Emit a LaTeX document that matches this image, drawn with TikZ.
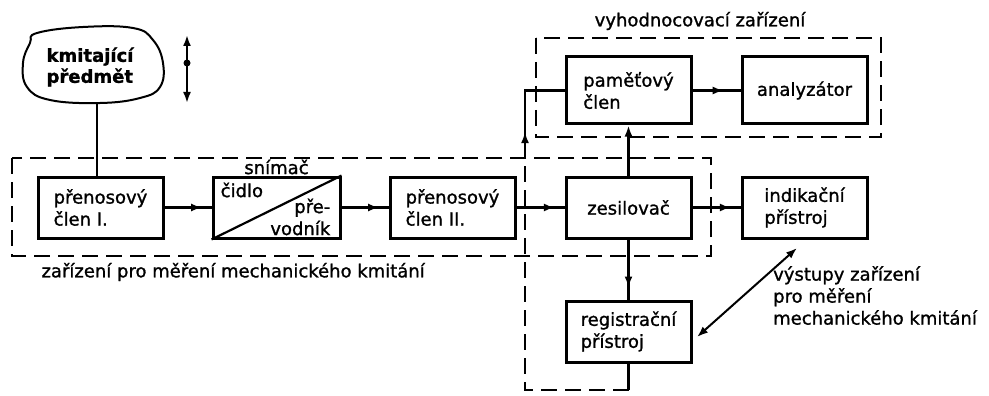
\documentclass[tikz,border=0pt]{standalone}
\usepackage{fontspec}
\setmainfont[FakeBold=1.2]{DejaVu Sans}
\usetikzlibrary{positioning, arrows.meta, calc, decorations.markings}

\begin{document}
\begin{tikzpicture}[x=1pt, y=-1pt,
  font=\fontsize{18}{22}\selectfont, >={Latex[length=11pt,width=8pt]},
  blk/.style={draw, line width=3pt, minimum width=125pt, minimum height=61pt, align=left, inner sep=4pt},
  flow/.style={line width=2.2pt, decoration={markings, mark=at position #1 with {\arrow{>}}}, postaction={decorate}},
  flow/.default=0.8,
  wire/.style={line width=2.2pt},
  unitframe/.style={draw, line width=2.2pt, dash pattern=on 16pt off 8pt}]
\useasboundingbox[fill=white] (0,0) rectangle (989,396);

% measuring chain
\node[blk] (pc1) at (100.5,207.5) {přenosový\\člen I.};
\node[blk, minimum width=127pt, right=47pt of pc1] (sn) {};
\node[blk, right=47pt of sn] (pc2) {přenosový\\člen II.};
\node[blk, right=48pt of pc2] (zes) {zesilovač};
\node[blk, right=48pt of zes] (ind) {indikační\\přístroj};
\node[blk, below=60pt of zes] (reg) {registrační\\přístroj};
\node[blk, minimum height=67pt, above=50pt of zes] (pam) {paměťový\\člen};
\node[blk, minimum height=67pt, right=48pt of pam] (ana) {analyzátor};

% sensor split
\draw[wire] (sn.south west) -- (sn.north east);
\node[anchor=north west, inner sep=1pt] (cid) at ($(sn.north west)+(8,6)$) {čidlo};
\node[anchor=south east, align=right, inner sep=1pt] (prev) at ($(sn.south east)+(-10,-3)$) {pře-\\vodník};
\node[above=0pt of sn, inner sep=1pt] (snl) {snímač};

% vibrating object
\node[font=\fontsize{18}{21}\selectfont\bfseries, align=left] (obj) at (90,67) {kmitající\\předmět};
\draw[line width=2pt] plot[smooth cycle, tension=0.7] coordinates
  {(37,33) (83,27) (133,28) (153,40) (163,63) (160,87) (140,98) (100,103) (50,100) (27,87) (23,63) (30,43)};
\coordinate (objfoot) at (97,103);
\draw[wire] (objfoot) -- (objfoot |- pc1.north);
\coordinate (mvtop) at (187,35);
\coordinate (mvbot) at (187,103);
\coordinate (mvmid) at (187,63);
\draw[line width=2.5pt, <->] (mvtop) -- (mvbot);
\fill (mvmid) circle (3.5pt);

% connectors
\draw[flow] (pc1) -- (sn);
\draw[flow] (sn) -- (pc2);
\draw[flow] (pc2) -- (zes);
\draw[flow] (zes) -- (ind);
\draw[flow] (zes) -- (reg);
\draw[flow=0.65] (pam) -- (ana);
\draw[wire, ->] (zes) -- (pam);

% feedback from recorder
\coordinate (fbB) at (525,390);
\coordinate (fbA) at (reg.south |- fbB);
\coordinate (fbC) at (525,152);
\draw[wire] (reg.south) -- (fbA);
\draw[unitframe] (fbA) -- (fbB) -- (fbC);
\draw[wire, ->] (fbC) -- ++(0,-20);
\draw[wire] (fbC) |- (pam.west);

% groups
\draw[unitframe] (12,158) rectangle (711,256);
\draw[unitframe] (536,38) rectangle (881,137);
\node[anchor=west] (lblmeas) at (38,272) {zařízení pro měření mechanického kmitání};
\node (lbleval) at (700,21) {vyhodnocovací zařízení};

% outputs
\coordinate (outA) at (697,337);
\coordinate (outB) at (797,248);
\draw[line width=2pt, <->] (outA) -- (outB);
\node[anchor=north west, align=left, inner sep=0pt] (lblout) at (773,266) {výstupy zařízení\\pro měření\\mechanického kmitání};
\end{tikzpicture}
\end{document}
